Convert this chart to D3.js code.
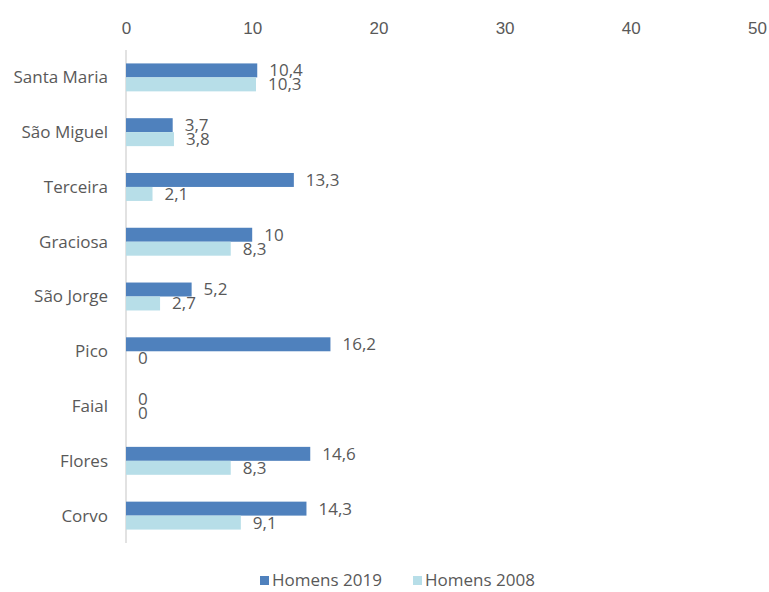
<!DOCTYPE html>
<html>
<head>
<meta charset="utf-8">
<script src="https://cdn.jsdelivr.net/npm/d3@7"></script>
<style>
  html, body { margin: 0; padding: 0; background: #fff; }
  svg { display: block; font-family: "Open Sans", "Liberation Sans", sans-serif; }
</style>
</head>
<body>
<svg id="chart" width="769" height="592"></svg>
<script>
// Islands and percentages for the two survey years
const islands = ["Santa Maria", "São Miguel", "Terceira", "Graciosa", "São Jorge", "Pico", "Faial", "Flores", "Corvo"];
const homens2019 = [10.4, 3.7, 13.3, 10, 5.2, 16.2, 0, 14.6, 14.3];
const homens2008 = [10.3, 3.8, 2.1, 8.3, 2.7, 0, 0, 8.3, 9.1];
const seriesNames = ["Homens 2019", "Homens 2008"];
const xTicks = [0, 10, 20, 30, 40, 50];

const colors = ["#4F81BD", "#B7DEE8"];
const textColor = "#595959";
const fontSize = 17;

const svg = d3.select("#chart");
const x = d3.scaleLinear().domain([0, 50]).range([126, 757]);
const y = d3.scaleBand().domain(islands).range([50, 543]).paddingInner(0.49).paddingOuter(0.245);
const sub = d3.scaleBand().domain(seriesNames).range([0, y.bandwidth()]);

const fmt = v => String(v).replace(".", ",");

// Top value axis: labels only
const xAxis = svg.append("g")
  .attr("transform", "translate(0,34)")
  .call(d3.axisTop(x).tickValues(xTicks).tickSize(0).tickPadding(0).tickFormat(d => d));
xAxis.select(".domain").remove();
xAxis.selectAll("text").attr("fill", textColor).attr("font-size", fontSize).attr("font-family", null);

// Category axis line and labels
svg.append("line")
  .attr("x1", x(0)).attr("x2", x(0)).attr("y1", 50).attr("y2", 543)
  .attr("stroke", "#d9d9d9").attr("stroke-width", 1.5);

svg.append("g").selectAll("text").data(islands).join("text")
  .attr("x", 108)
  .attr("y", d => y(d) + y.bandwidth() / 2)
  .attr("dy", "0.35em")
  .attr("text-anchor", "end")
  .attr("fill", textColor)
  .attr("font-size", fontSize)
  .text(d => d);

const series = [homens2019, homens2008];
series.forEach((vals, si) => {
  const g = svg.append("g");
  const rows = islands.map((isl, i) => ({ isl, v: vals[i] }));
  g.selectAll("rect").data(rows).join("rect")
    .attr("x", x(0))
    .attr("y", d => y(d.isl) + sub(seriesNames[si]))
    .attr("width", d => x(d.v) - x(0))
    .attr("height", sub.bandwidth())
    .attr("fill", colors[si]);
  g.selectAll("text").data(rows).join("text")
    .attr("x", d => x(d.v) + 12)
    .attr("y", d => y(d.isl) + sub(seriesNames[si]) + sub.bandwidth() / 2)
    .attr("dy", "0.35em")
    .attr("fill", textColor)
    .attr("font-size", fontSize)
    .text(d => fmt(d.v));
});

// Legend
const legendX = [260, 413];
const legend = svg.append("g");
seriesNames.forEach((name, i) => {
  legend.append("rect")
    .attr("x", legendX[i]).attr("y", 576)
    .attr("width", 9).attr("height", 9)
    .attr("fill", colors[i]);
  legend.append("text")
    .attr("x", legendX[i] + 12).attr("y", 586)
    .attr("fill", textColor)
    .attr("font-size", fontSize)
    .text(name);
});
</script>
</body>
</html>
